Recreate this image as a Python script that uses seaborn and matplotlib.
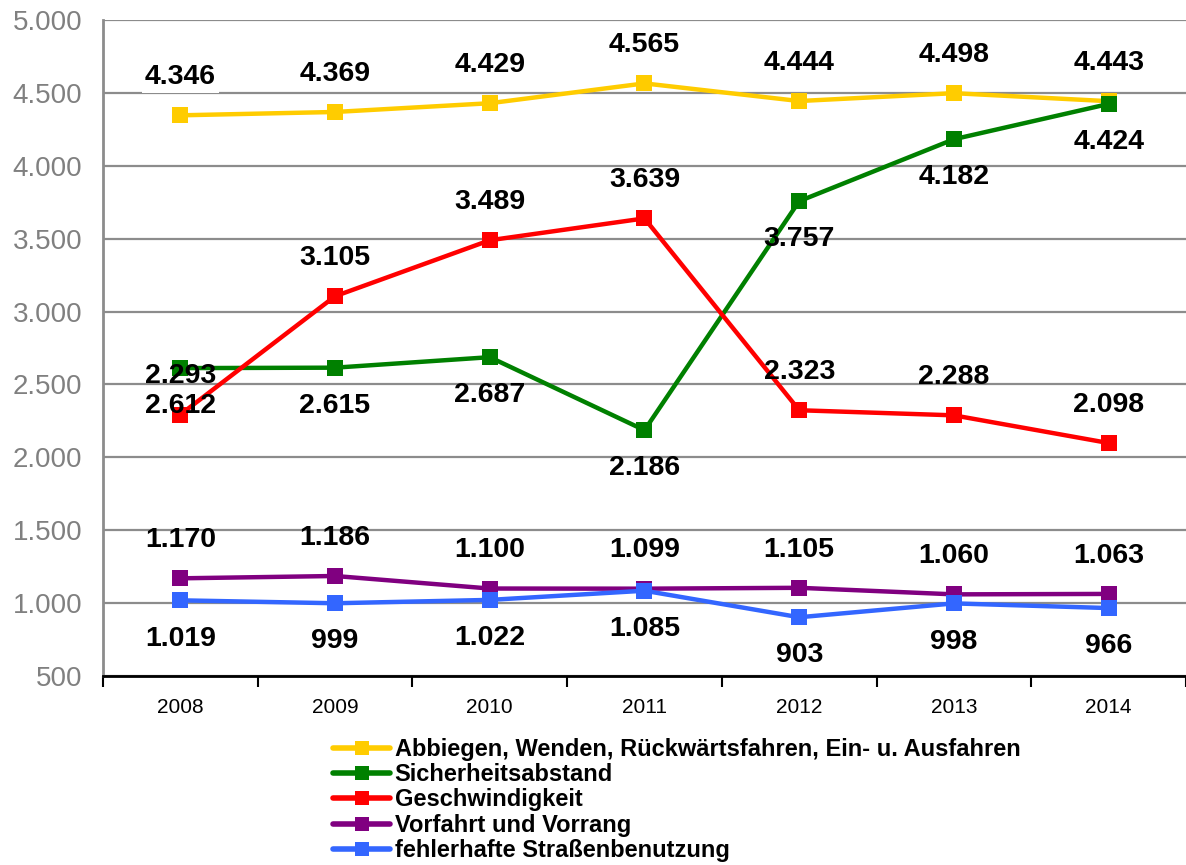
import numpy as np
import matplotlib
matplotlib.use("Agg")
import matplotlib.pyplot as plt
import seaborn as sns
import pandas as pd

years = [2008, 2009, 2010, 2011, 2012, 2013, 2014]
series_names = [
    "Abbiegen, Wenden, Rückwärtsfahren, Ein- u. Ausfahren",
    "Sicherheitsabstand",
    "Geschwindigkeit",
    "Vorfahrt und Vorrang",
    "fehlerhafte Straßenbenutzung",
]
abbiegen = [4346, 4369, 4429, 4565, 4444, 4498, 4443]
abstand = [2612, 2615, 2687, 2186, 3757, 4182, 4424]
geschwindigkeit = [2293, 3105, 3489, 3639, 2323, 2288, 2098]
vorfahrt = [1170, 1186, 1100, 1099, 1105, 1060, 1063]
strasse = [1019, 999, 1022, 1085, 903, 998, 966]
y_ticks = [500, 1000, 1500, 2000, 2500, 3000, 3500, 4000, 4500, 5000]

colors = ["#FFCC00", "#008000", "#FF0000", "#800080", "#3366FF"]
# label above (+1) or below (-1) the point
label_side = [1, -1, 1, 1, -1]

all_values = [abbiegen, abstand, geschwindigkeit, vorfahrt, strasse]
df = pd.DataFrame({
    "Jahr": years * len(series_names),
    "Wert": sum(all_values, []),
    "Reihe": sum([[n] * len(years) for n in series_names], []),
})

sns.set_style("white")
plt.rcParams["font.family"] = ["Liberation Sans", "DejaVu Sans"]
plt.rcParams["text.color"] = "black"

fig = plt.figure(figsize=(11.86, 8.65), dpi=100)
ax = fig.add_axes([0.0868, 0.2185, 0.9132, 0.7584])

for yv in y_ticks:
    ax.axhline(yv, color="#8c8c8c", lw=1.6, zorder=0)

sns.lineplot(data=df, x="Jahr", y="Wert", hue="Reihe", hue_order=series_names,
             palette=colors, marker="s", markersize=11, markeredgewidth=0,
             linewidth=3.2, ax=ax, legend=True)

def fmt(v):
    return f"{v:,}".replace(",", ".")

for name, vals, col, side in zip(series_names, all_values, colors, label_side):
    for x, v in zip(years, vals):
        kw = {}
        if col == "#FFCC00":
            kw["bbox"] = dict(facecolor="white", edgecolor="none", pad=2)
        ax.annotate(fmt(v), (x, v), xytext=(0, side * 27.5), textcoords="offset points",
                    ha="center", va="center", fontsize=20.5, fontweight="bold",
                    color="black", zorder=5, **kw)

ax.set_xlim(2007.5, 2014.5)
ax.set_ylim(500, 5000)
ax.set_yticks(y_ticks)
ax.set_yticklabels([fmt(v) for v in y_ticks], fontsize=20, color="#808080")
ax.set_xticks(years)
ax.set_xticklabels([str(y) for y in years], fontsize=15, color="black")
ax.set_xticks(np.arange(2007.5, 2015, 1), minor=True)
ax.tick_params(axis="x", which="major", length=0, pad=16)
ax.tick_params(axis="x", which="minor", bottom=True, length=8, width=1.5,
               color="black", direction="out")
ax.tick_params(axis="y", length=0, pad=15)
ax.set_xlabel("")
ax.set_ylabel("")

for s in ["top", "right"]:
    ax.spines[s].set_visible(False)
ax.spines["left"].set_color("#8c8c8c")
ax.spines["left"].set_linewidth(2)
ax.spines["bottom"].set_color("black")
ax.spines["bottom"].set_linewidth(2)

handles, labels = ax.get_legend_handles_labels()
leg = ax.legend(handles, labels, loc="upper left", bbox_to_anchor=(0.273, 0.158),
                bbox_transform=fig.transFigure, frameon=False,
                prop={"size": 17, "weight": "bold"}, labelspacing=0.1,
                handlelength=2.4, handletextpad=0.2, borderaxespad=0)
for h in leg.legend_handles:
    h.set_linewidth(4)
    h.set_markersize(10)
for t in leg.get_texts():
    t.set_color("black")

fig.savefig("out.png", dpi=100)
